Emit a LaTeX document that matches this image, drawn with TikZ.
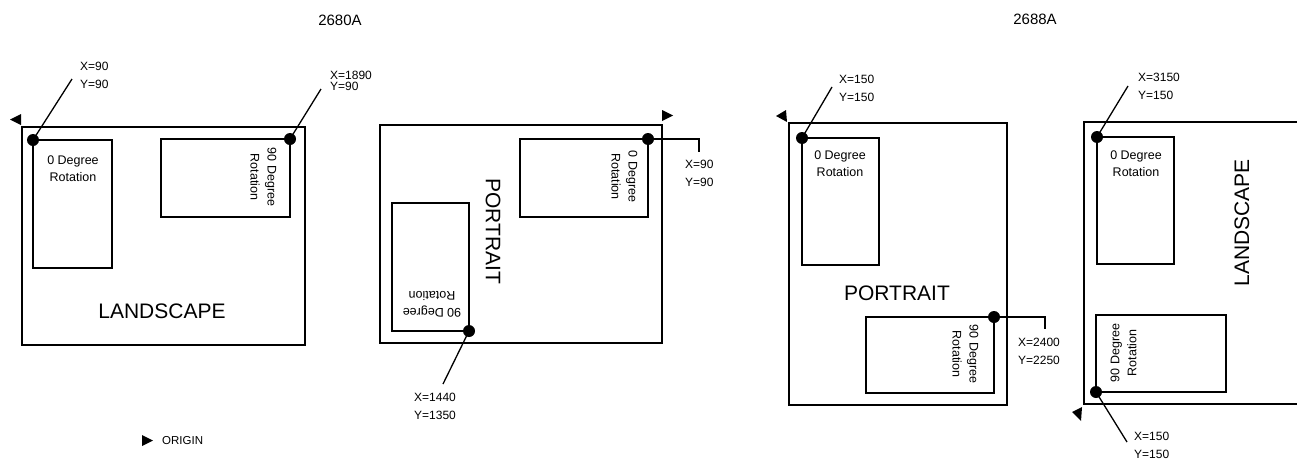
\documentclass[tikz,border=0pt]{standalone}
\usepackage{fontspec}
\setmainfont{Liberation Sans}
\begin{document}
\begin{tikzpicture}[x=1pt,y=-1pt,
  frame/.style={draw, line width=1.4pt, inner sep=0pt, outer sep=0pt},
  inbox/.style={draw, line width=1.2pt, inner sep=0pt, outer sep=0pt},
  dot/.style={circle, fill, inner sep=0pt, minimum size=12pt},
  lbl/.style={font=\fontsize{12}{18}\selectfont, align=left, inner sep=0pt, anchor=west},
  lbltight/.style={font=\fontsize{12}{11.5}\selectfont, align=left, inner sep=0pt, anchor=west},
  rtxt/.style={font=\fontsize{12.5}{17}\selectfont, align=center, inner sep=0pt},
  big/.style={font=\fontsize{21}{25}\selectfont, inner sep=0pt},
  title/.style={font=\fontsize{15}{18}\selectfont, inner sep=0pt},
  lead/.style={line width=1.3pt},
  originmark/.style={fill=black}]
\useasboundingbox (0,0) rectangle (1297,461);

% titles
\node[title] (t1) at (340,20) {2680A};
\node[title] (t2) at (1035,19) {2688A};

% ---------------- Panel 1: 2680A landscape
\node[frame, minimum width=283pt, minimum height=218pt] (p1) at (163.5,236) {};
\node[inbox, minimum width=79pt, minimum height=128pt] (p1a) at (72.5,204) {};
\node[inbox, minimum width=129pt, minimum height=78pt] (p1b) at (225.5,178) {};
\node[rtxt] (p1at) at (73,168.5) {0 Degree\\Rotation};
\node[rtxt, rotate=-90] (p1bt) at (263.5,177) {90 Degree\\Rotation};
\node[big] (p1t) at (162,311) {LANDSCAPE};
\node[dot] (d1) at (p1a.north west) {};
\node[dot] (d2) at (p1b.north east) {};
\coordinate (e1) at (72,79);
\coordinate (e2) at (321,89);
\draw[lead] (d1.center) -- (e1);
\draw[lead] (d2.center) -- (e2);
\node[lbl] (l1) at (80,75) {X=90\\Y=90};
\node[lbltight] (l2) at (330,81) {X=1890\\Y=90};
\fill[originmark] (10,119.5) -- (21,114) -- (21,125) -- cycle;

% legend
\fill[originmark] (153,440.5) -- (142,435) -- (142,446) -- cycle;
\node[font=\fontsize{11.5}{14}\selectfont, inner sep=0pt, anchor=west] (leg) at (162,441) {ORIGIN};

% ---------------- Panel 2: 2680A portrait
\node[frame, minimum width=282pt, minimum height=218pt] (p2) at (521,234) {};
\node[inbox, minimum width=128pt, minimum height=78pt] (p2a) at (584,178) {};
\node[inbox, minimum width=77pt, minimum height=128pt] (p2b) at (430.5,267) {};
\node[rtxt, rotate=-90] (p2at) at (624.5,176.5) {0 Degree\\Rotation};
\node[rtxt, rotate=180] (p2bt) at (432,304) {90 Degree\\Rotation};
\node[big, rotate=-90] (p2t) at (493,231) {PORTRAIT};
\node[dot] (d3) at (p2a.north east) {};
\node[dot] (d4) at (p2b.south east) {};
\coordinate (e3) at (699,152);
\coordinate (e4) at (443,384);
\draw[lead] (d3.center) -| (e3);
\draw[lead] (d4.center) -- (e4);
\node[lbl] (l3) at (685,173) {X=90\\Y=90};
\node[lbl] (l4) at (414,406) {X=1440\\Y=1350};
\fill[originmark] (673,115.5) -- (662,110) -- (662,121) -- cycle;

% ---------------- Panel 3: 2688A portrait
\node[frame, minimum width=218pt, minimum height=282pt] (p3) at (898,264) {};
\node[inbox, minimum width=77pt, minimum height=127pt] (p3a) at (840.5,201.5) {};
\node[inbox, minimum width=128pt, minimum height=76pt] (p3b) at (930,355) {};
\node[rtxt] (p3at) at (840,163.5) {0 Degree\\Rotation};
\node[rtxt, rotate=-90] (p3bt) at (965.5,354) {90 Degree\\Rotation};
\node[big] (p3t) at (897,293) {PORTRAIT};
\node[dot] (d5) at (p3a.north west) {};
\node[dot] (d6) at (p3b.north east) {};
\coordinate (e5) at (832,87);
\coordinate (e6) at (1045,329);
\draw[lead] (d5.center) -- (e5);
\draw[lead] (d6.center) -| (e6);
\node[lbl] (l5) at (839,88) {X=150\\Y=150};
\node[lbl] (l6) at (1018,351.5) {X=2400\\Y=2250};
\fill[originmark] (776,116) -- (786,110) -- (787,122) -- cycle;

% ---------------- Panel 4: 2688A landscape
\coordinate (p4tr) at (1297,122);
\coordinate (p4bl) at (1084,404);
\coordinate (p4br) at (1297,404);
\draw[line width=1.4pt] (p4tr) -| (p4bl) -- (p4br);
\node[inbox, minimum width=77pt, minimum height=127pt] (p4a) at (1135.5,200.5) {};
\node[inbox, minimum width=130pt, minimum height=77pt] (p4b) at (1161,353.5) {};
\node[rtxt] (p4at) at (1136,163.5) {0 Degree\\Rotation};
\node[rtxt, rotate=90] (p4bt) at (1123.5,353) {90 Degree\\Rotation};
\node[big, rotate=90] (p4t) at (1242,223) {LANDSCAPE};
\node[dot] (d7) at (p4a.north west) {};
\node[dot] (d8) at (p4b.south west) {};
\coordinate (e7) at (1128,86);
\coordinate (e8) at (1127,442);
\draw[lead] (d7.center) -- (e7);
\draw[lead] (d8.center) -- (e8);
\node[lbl] (l7) at (1138,86.5) {X=3150\\Y=150};
\node[lbl] (l8) at (1134,445) {X=150\\Y=150};
\fill[originmark] (1072,412) -- (1082,407) -- (1081,421) -- cycle;
\end{tikzpicture}
\end{document}
